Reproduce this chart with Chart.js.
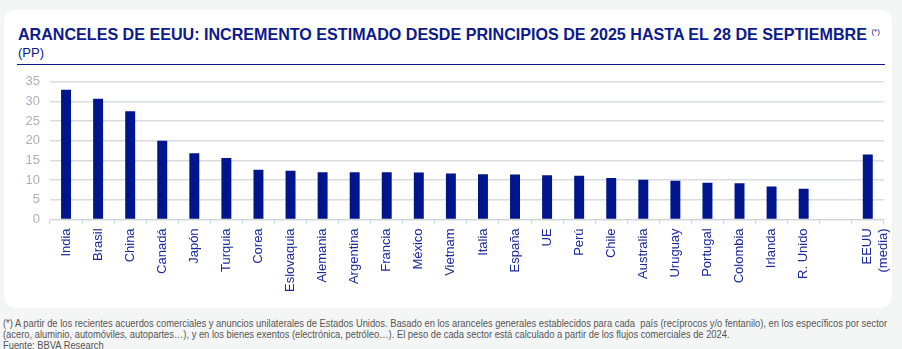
<!doctype html>
<html lang="es">
<head>
<meta charset="utf-8" />
<title>Aranceles de EEUU</title>
<style>
  body {
    margin: 0;
    width: 902px;
    height: 349px;
    background: #f4f5f5;
    font-family: "Liberation Sans", Arial, sans-serif;
    position: relative;
    overflow: hidden;
  }
  .card {
    position: absolute;
    left: 4px;
    top: 10px;
    width: 888px;
    height: 298px;
    background: #fff;
    border-radius: 12px;
  }
  .title {
    position: absolute;
    left: 18px;
    top: 25px;
    font-size: 16.1px;
    font-weight: bold;
    color: #0c1a8e;
    white-space: nowrap;
  }
  .title sup { font-size: 8px; font-weight: normal; }
  .unit {
    position: absolute;
    left: 18px;
    top: 45px;
    font-size: 13px;
    color: #0c1a8e;
  }
  .rule {
    position: absolute;
    left: 17px;
    top: 64px;
    width: 868px;
    height: 1px;
    background: #0c1a8e;
  }
  .chartBox {
    position: absolute;
    left: 0;
    top: 64px;
    width: 903px;
    height: 232px;
  }
  .note {
    position: absolute;
    left: 3px;
    top: 318px;
    font-family: "Liberation Sans Narrow", "Liberation Sans", Arial, sans-serif;
    font-size: 10px;
    line-height: 11px;
    color: #555;
    white-space: nowrap;
    transform: scaleX(0.935);
    transform-origin: left top;
  }
</style>
</head>
<body>
  <div class="card"></div>
  <div class="title">ARANCELES DE EEUU: INCREMENTO ESTIMADO DESDE PRINCIPIOS DE 2025 HASTA EL 28 DE SEPTIEMBRE <sup>(*)</sup></div>
  <div class="unit">(PP)</div>
  <div class="rule"></div>
  <div class="chartBox"><canvas id="tariffChart"></canvas></div>
  <div class="note">
    (*) A partir de los recientes acuerdos comerciales y anuncios unilaterales de Estados Unidos. Basado en los aranceles generales establecidos para cada&nbsp; país (recíprocos y/o fentanilo), en los específicos por sector<br>
    (acero, aluminio, automóviles, autopartes…), y en los bienes exentos (electrónica, petróleo…). El peso de cada sector está calculado a partir de los flujos comerciales de 2024.<br>
    Fuente: BBVA Research
  </div>

<script src="https://cdn.jsdelivr.net/npm/chart.js@4.4.1/dist/chart.umd.min.js"></script>
<script>
  // categories (blank slot separates the countries from the US average)
  var countries = ['India', 'Brasil', 'China', 'Canadá', 'Japón', 'Turquia', 'Corea', 'Eslovaquia',
    'Alemania', 'Argentina', 'Francia', 'México', 'Vietnam', 'Italia', 'España', 'UE', 'Perú',
    'Chile', 'Australia', 'Uruguay', 'Portugal', 'Colombia', 'Irlanda', 'R. Unido', '', ['EEUU', '(media)']];

  // increase in pp
  var increase = [33.0, 30.7, 27.5, 20.0, 16.8, 15.6, 12.6, 12.4,
    12.0, 12.0, 12.0, 11.9, 11.7, 11.5, 11.4, 11.2, 11.1,
    10.5, 10.1, 9.8, 9.3, 9.2, 8.4, 7.8, null, 16.5];

  var yTicks = [0, 5, 10, 15, 20, 25, 30, 35];

  var navy = '#00148c';

  var ctx = document.getElementById('tariffChart').getContext('2d');
  var chart = new Chart(ctx, {
    type: 'bar',
    data: {
      labels: countries,
      datasets: [{
        data: increase,
        backgroundColor: navy,
        borderWidth: 0,
        barPercentage: 0.31,
        categoryPercentage: 1
      }]
    },
    options: {
      responsive: true,
      maintainAspectRatio: false,
      animation: false,
      layout: { padding: { top: 9, right: 0, left: 0, bottom: 0 } },
      plugins: {
        legend: { display: false },
        tooltip: { enabled: false }
      },
      scales: {
        x: {
          offset: true,
          grid: {
            display: true,
            offset: true,
            drawOnChartArea: false,
            drawTicks: true,
            tickLength: 5,
            color: '#d4d8de'
          },
          border: { color: '#cfd3da', width: 1 },
          ticks: {
            autoSkip: false,
            minRotation: 90,
            maxRotation: 90,
            padding: 4,
            color: '#1b2a9c',
            font: { family: 'Liberation Sans', size: 13 }
          }
        },
        y: {
          min: 0,
          max: 35,
          afterBuildTicks: function(axis) {
            axis.ticks = yTicks.map(function(v) { return { value: v }; });
          },
          afterFit: function(axis) { axis.width = 50; },
          grid: {
            color: '#d9dce2',
            lineWidth: 1.5,
            drawTicks: false
          },
          border: { display: false },
          ticks: {
            padding: 10,
            color: '#aab1bd',
            font: { family: 'Liberation Sans', size: 13 }
          }
        }
      }
    }
  });
</script>
</body>
</html>
